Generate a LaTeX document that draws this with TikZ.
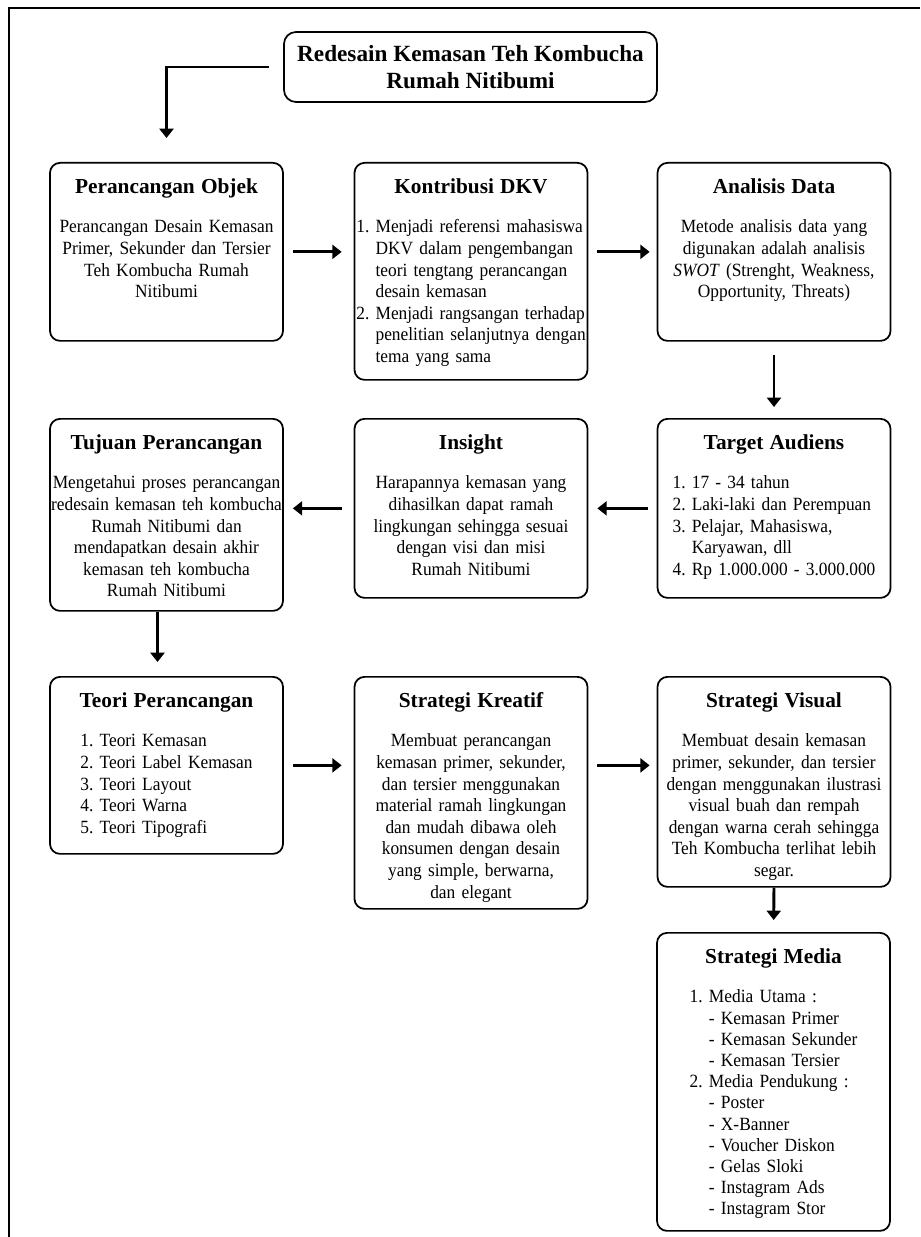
\documentclass[tikz,border=0pt]{standalone}
\usepackage{fontspec}
\setmainfont{Liberation Serif}
\newfontfamily\isifont[FakeStretch=0.93]{Liberation Serif}
\usepackage{tikz}
\usetikzlibrary{arrows.meta}

\newcommand{\kepala}{\fontsize{16}{19}\selectfont\rmfamily\bfseries}
\tikzset{
  kotak/.style={draw, line width=1.3pt, rounded corners=7.5pt, anchor=north,
    text width=174.75pt, inner xsep=0pt, inner ysep=0pt, align=center,
    text height=23pt, font=\isifont\fontsize{14}{16.2}\selectfont},
  judulkotak/.style={draw, line width=1.3pt, rounded corners=9pt,
    minimum width=279.75pt, minimum height=52.5pt, align=center,
    font=\fontsize{17.4}{20.2}\selectfont\bfseries},
  panah/.style={line width=2.2pt, -{Triangle[length=7pt,width=10.5pt]}},
  bingkai/.style={line width=1.5pt}
}

\begin{document}
\begin{tikzpicture}[x=0.75pt, y=-0.75pt]
        \useasboundingbox (0,0) rectangle (920,1237);
        \draw[bingkai] (9,1237) -- (9,8) -- (920,8);

        % Nodes
        \node[judulkotak] (judul) at (470.5,67) {Redesain Kemasan Teh Kombucha\\ Rumah Nitibumi};

        \node[kotak, text depth=110.5pt] (objek) at (166.5,162) {{\kepala Perancangan Objek}\\[13.3pt]
            Perancangan Desain Kemasan\\ Primer, Sekunder dan Tersier\\ Teh Kombucha Rumah\\ Nitibumi};
        \node[kotak, text depth=139.75pt] (dkv) at (471,162) {{\kepala Kontribusi DKV}\\[13.3pt]
            \begin{tabular}[t]{@{}l@{\ }l@{}}
            1. & Menjadi referensi mahasiswa\\
               & DKV dalam pengembangan\\
               & teori tengtang perancangan\\
               & desain kemasan\\
            2. & Menjadi rangsangan terhadap\\
               & penelitian selanjutnya dengan\\
               & tema yang sama
            \end{tabular}};
        \node[kotak, text depth=110.5pt] (analisis) at (774,162) {{\kepala Analisis Data}\\[13.3pt]
            Metode analisis data yang\\ digunakan adalah analisis\\ \textit{SWOT} (Strenght, Weakness,\\ Opportunity, Threats)};

        \node[kotak, text depth=121pt] (tujuan) at (166.5,418) {{\kepala Tujuan Perancangan}\\[13.3pt]
            Mengetahui proses perancangan\\ redesain kemasan teh kombucha\\ Rumah Nitibumi dan\\ mendapatkan desain akhir\\ kemasan teh kombucha\\ Rumah Nitibumi};
        \node[kotak, text depth=111.25pt] (insight) at (471,418) {{\kepala Insight}\\[13.3pt]
            Harapannya kemasan yang\\ dihasilkan dapat ramah\\ lingkungan sehingga sesuai\\ dengan visi dan misi\\ Rumah Nitibumi};
        \node[kotak, text depth=111.25pt] (audiens) at (774,418) {{\kepala Target Audiens}\\[13.3pt]
            \begin{tabular}[t]{@{}l@{\ }l@{}}
            1. & 17 - 34 tahun\\
            2. & Laki-laki dan Perempuan\\
            3. & Pelajar, Mahasiswa,\\
               & Karyawan, dll\\
            4. & Rp 1.000.000 - 3.000.000
            \end{tabular}};

        \node[kotak, text depth=109.75pt] (teori) at (166.5,676) {{\kepala Teori Perancangan}\\[13.3pt]
            \begin{tabular}[t]{@{}l@{\ }l@{}}
            1. & Teori Kemasan\\
            2. & Teori Label Kemasan\\
            3. & Teori Layout\\
            4. & Teori Warna\\
            5. & Teori Tipografi
            \end{tabular}};
        \node[kotak, text depth=151pt] (kreatif) at (471,676) {{\kepala Strategi Kreatif}\\[13.3pt]
            Membuat perancangan\\ kemasan primer, sekunder,\\ dan tersier menggunakan\\ material ramah lingkungan\\ dan mudah dibawa oleh\\ konsumen dengan desain\\ yang simple, berwarna,\\ dan elegant};
        \node[kotak, text depth=134.5pt] (visual) at (774,676) {{\kepala Strategi Visual}\\[13.3pt]
            Membuat desain kemasan\\ primer, sekunder, dan tersier\\ dengan menggunakan ilustrasi\\ visual buah dan rempah\\ dengan warna cerah sehingga\\ Teh Kombucha terlihat lebih\\ segar.};

        \node[kotak, text depth=200.5pt, font=\isifont\fontsize{14}{15.9}\selectfont] (media) at (773.5,932) {{\kepala Strategi Media}\\[13.6pt]
            \begin{tabular}[t]{@{}l@{\ }l@{}}
            1. & Media Utama :\\
               & - Kemasan Primer\\
               & - Kemasan Sekunder\\
               & - Kemasan Tersier\\
            2. & Media Pendukung :\\
               & - Poster\\
               & - X-Banner\\
               & - Voucher Diskon\\
               & - Gelas Sloki\\
               & - Instagram Ads\\
               & - Instagram Stor
            \end{tabular}};

        % Lines
        \draw[panah, shorten <=10.5pt, shorten >=18pt] (judul.west) -| (objek.north);
        \draw[panah, shorten <=6.75pt, shorten >=9pt] (objek.east) -- (objek.east -| dkv.west);
        \draw[panah, shorten <=6.75pt, shorten >=5.25pt] (dkv.east |- analisis.west) -- (analisis.west);
        \draw[panah, shorten <=9.75pt, shorten >=8.25pt] (analisis.south) -- (audiens.north);
        \draw[panah, shorten <=6.75pt, shorten >=6.75pt] (audiens.west) -- (insight.east);
        \draw[panah, shorten <=9pt, shorten >=6.75pt] (insight.west) -- (insight.west -| tujuan.east);
        \draw[panah, shorten >=10.5pt] ([xshift=-6.75pt]tujuan.south) -- ([xshift=-6.75pt]teori.north);
        \draw[panah, shorten <=6.75pt, shorten >=9pt] (teori.east) -- (teori.east -| kreatif.west);
        \draw[panah, shorten <=6.75pt, shorten >=5.25pt] (kreatif.east |- teori.east) -- (teori.east -| visual.west);
        \draw[panah, shorten >=9pt] (visual.south) -- (media.north);
    \end{tikzpicture}
\end{document}
